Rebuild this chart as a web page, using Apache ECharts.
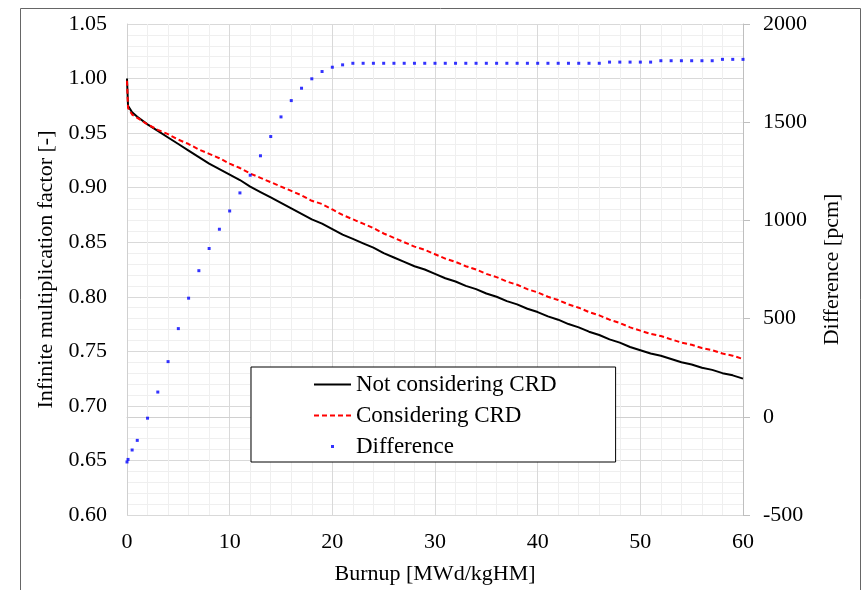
<!DOCTYPE html>
<html>
<head>
<meta charset="utf-8">
<script src="https://cdn.jsdelivr.net/npm/echarts@6/dist/echarts.min.js"></script>
<style>
html,body{margin:0;padding:0;background:#fff;}
#chart{width:861px;height:590px;}
</style>
</head>
<body>
<div id="chart"></div>
<script>
// Burnup points [MWd/kgHM]
const burnup = [0,0.1,0.5,1,2,3,4,5,6,7,8,9,10,11,12,13,14,15,16,17,18,19,20,21,22,23,24,25,26,27,28,29,30,31,32,33,34,35,36,37,38,39,40,41,42,43,44,45,46,47,48,49,50,51,52,53,54,55,56,57,58,59,60];
// Infinite multiplication factor, not considering CRD
const kNotCRD = [1.000,0.975,0.969,0.965,0.958,0.952,0.946,0.940,0.934,0.928,0.922,0.917,0.912,0.907,0.901,0.896,0.891,0.886,0.881,0.876,0.871,0.867,0.862,0.857,0.853,0.849,0.845,0.840,0.836,0.832,0.828,0.825,0.821,0.817,0.814,0.810,0.807,0.803,0.800,0.796,0.793,0.789,0.786,0.782,0.779,0.775,0.772,0.768,0.765,0.761,0.758,0.754,0.751,0.748,0.746,0.743,0.740,0.738,0.735,0.733,0.730,0.728,0.725];
// Infinite multiplication factor, considering CRD
const kCRD = [0.998,0.973,0.967,0.964,0.958,0.953,0.949,0.944,0.940,0.935,0.931,0.927,0.922,0.918,0.913,0.909,0.905,0.901,0.897,0.893,0.888,0.885,0.880,0.875,0.871,0.867,0.863,0.858,0.854,0.850,0.846,0.843,0.839,0.835,0.832,0.828,0.825,0.821,0.818,0.814,0.811,0.807,0.804,0.800,0.797,0.793,0.790,0.786,0.783,0.779,0.776,0.772,0.769,0.766,0.764,0.761,0.758,0.756,0.753,0.751,0.748,0.746,0.743];
// Difference [pcm]
const diffPcm = [-230,-217,-169,-120,-7,126,281,449,604,744,857,955,1048,1140,1230,1329,1427,1527,1610,1673,1721,1758,1780,1792,1800,1800,1800,1800,1800,1800,1800,1800,1800,1800,1800,1800,1800,1800,1800,1800,1800,1800,1800,1800,1800,1800,1800,1800,1800,1806,1806,1806,1806,1806,1813,1813,1813,1813,1813,1813,1820,1820,1820];

const seriesNames = ['Not considering CRD','Considering CRD','Difference'];
const xTitle = 'Burnup [MWd/kgHM]';
const yLeftTitle = 'Infinite multiplication factor [-]';
const yRightTitle = 'Difference [pcm]';

const FONT = 'Liberation Serif';
const pair = (xs, ys) => xs.map((x, i) => [x, ys[i]]);
const hiddenSymbol = {opacity: 0, color: 'transparent', borderWidth: 0};

const chart = echarts.init(document.getElementById('chart'), null, {renderer: 'canvas'});
chart.setOption({
  animation: false,
  backgroundColor: '#fff',
  textStyle: {fontFamily: FONT, color: '#000'},
  graphic: [{
    type: 'rect', left: 18, top: 6, z: -1,
    shape: {width: 840, height: 600},
    style: {fill: 'none', stroke: '#666', lineWidth: 1}
  }],
  grid: {left: 127, right: 118, top: 24, bottom: 74, containLabel: false},
  legend: {
    orient: 'vertical', left: 251, top: 367,
    backgroundColor: '#fff', borderColor: '#000', borderWidth: 1,
    padding: [6, 59, 4, 62],
    itemWidth: 37, itemHeight: 14, itemGap: 8,
    textStyle: {fontFamily: FONT, fontSize: 23, color: '#000', lineHeight: 22},
    data: [
      {name: seriesNames[0], itemStyle: hiddenSymbol},
      {name: seriesNames[1], itemStyle: hiddenSymbol},
      {name: seriesNames[2], icon: 'path://M0,0M37,14M17,5.5h3v3h-3z'}
    ]
  },
  xAxis: {
    type: 'value', min: 0, max: 60, interval: 10,
    name: xTitle, nameLocation: 'middle', nameGap: 48,
    nameTextStyle: {fontFamily: FONT, fontSize: 22, color: '#000'},
    axisLine: {show: true, lineStyle: {color: '#d0d0d0', width: 1}},
    axisTick: {show: false},
    axisLabel: {fontFamily: FONT, fontSize: 22, color: '#000', margin: 16},
    splitLine: {show: true, lineStyle: {color: '#d9d9d9', width: 1}},
    minorTick: {show: false, splitNumber: 5},
    minorSplitLine: {show: true, lineStyle: {color: '#efefef', width: 1}}
  },
  yAxis: [{
    type: 'value', min: 0.6, max: 1.05, interval: 0.05, position: 'left',
    name: yLeftTitle, nameLocation: 'middle', nameGap: 70, nameRotate: 90,
    nameTextStyle: {fontFamily: FONT, fontSize: 22, color: '#000'},
    axisLine: {show: true, lineStyle: {color: '#d0d0d0', width: 1}},
    axisTick: {show: false},
    axisLabel: {fontFamily: FONT, fontSize: 22, color: '#000', margin: 20, formatter: v => v.toFixed(2)},
    splitLine: {show: true, lineStyle: {color: '#d9d9d9', width: 1}},
    minorTick: {show: false, splitNumber: 5},
    minorSplitLine: {show: true, lineStyle: {color: '#efefef', width: 1}}
  }, {
    type: 'value', min: -500, max: 2000, interval: 500, position: 'right',
    name: yRightTitle, nameLocation: 'middle', nameGap: 78, nameRotate: 90,
    nameTextStyle: {fontFamily: FONT, fontSize: 22, color: '#000'},
    axisLine: {show: true, lineStyle: {color: '#bfbfbf', width: 1}},
    axisTick: {show: true, inside: false, length: 7, lineStyle: {color: '#bfbfbf'}},
    axisLabel: {fontFamily: FONT, fontSize: 22, color: '#000', margin: 20, formatter: v => String(v)},
    splitLine: {show: false}
  }],
  series: [{
    name: seriesNames[0], type: 'line', yAxisIndex: 0,
    data: pair(burnup, kNotCRD), showSymbol: false, symbol: 'none',
    lineStyle: {color: '#000', width: 2}, itemStyle: {color: '#000'}, z: 3
  }, {
    name: seriesNames[1], type: 'line', yAxisIndex: 0,
    data: pair(burnup, kCRD), showSymbol: false, symbol: 'none',
    lineStyle: {color: '#ff0000', width: 2, type: [5, 3]}, itemStyle: {color: '#ff0000'}, z: 4
  }, {
    name: seriesNames[2], type: 'scatter', yAxisIndex: 1,
    data: pair(burnup, diffPcm), symbol: 'rect', symbolSize: [3, 3],
    itemStyle: {color: '#0000ff'}, z: 5
  }]
});
</script>
</body>
</html>
